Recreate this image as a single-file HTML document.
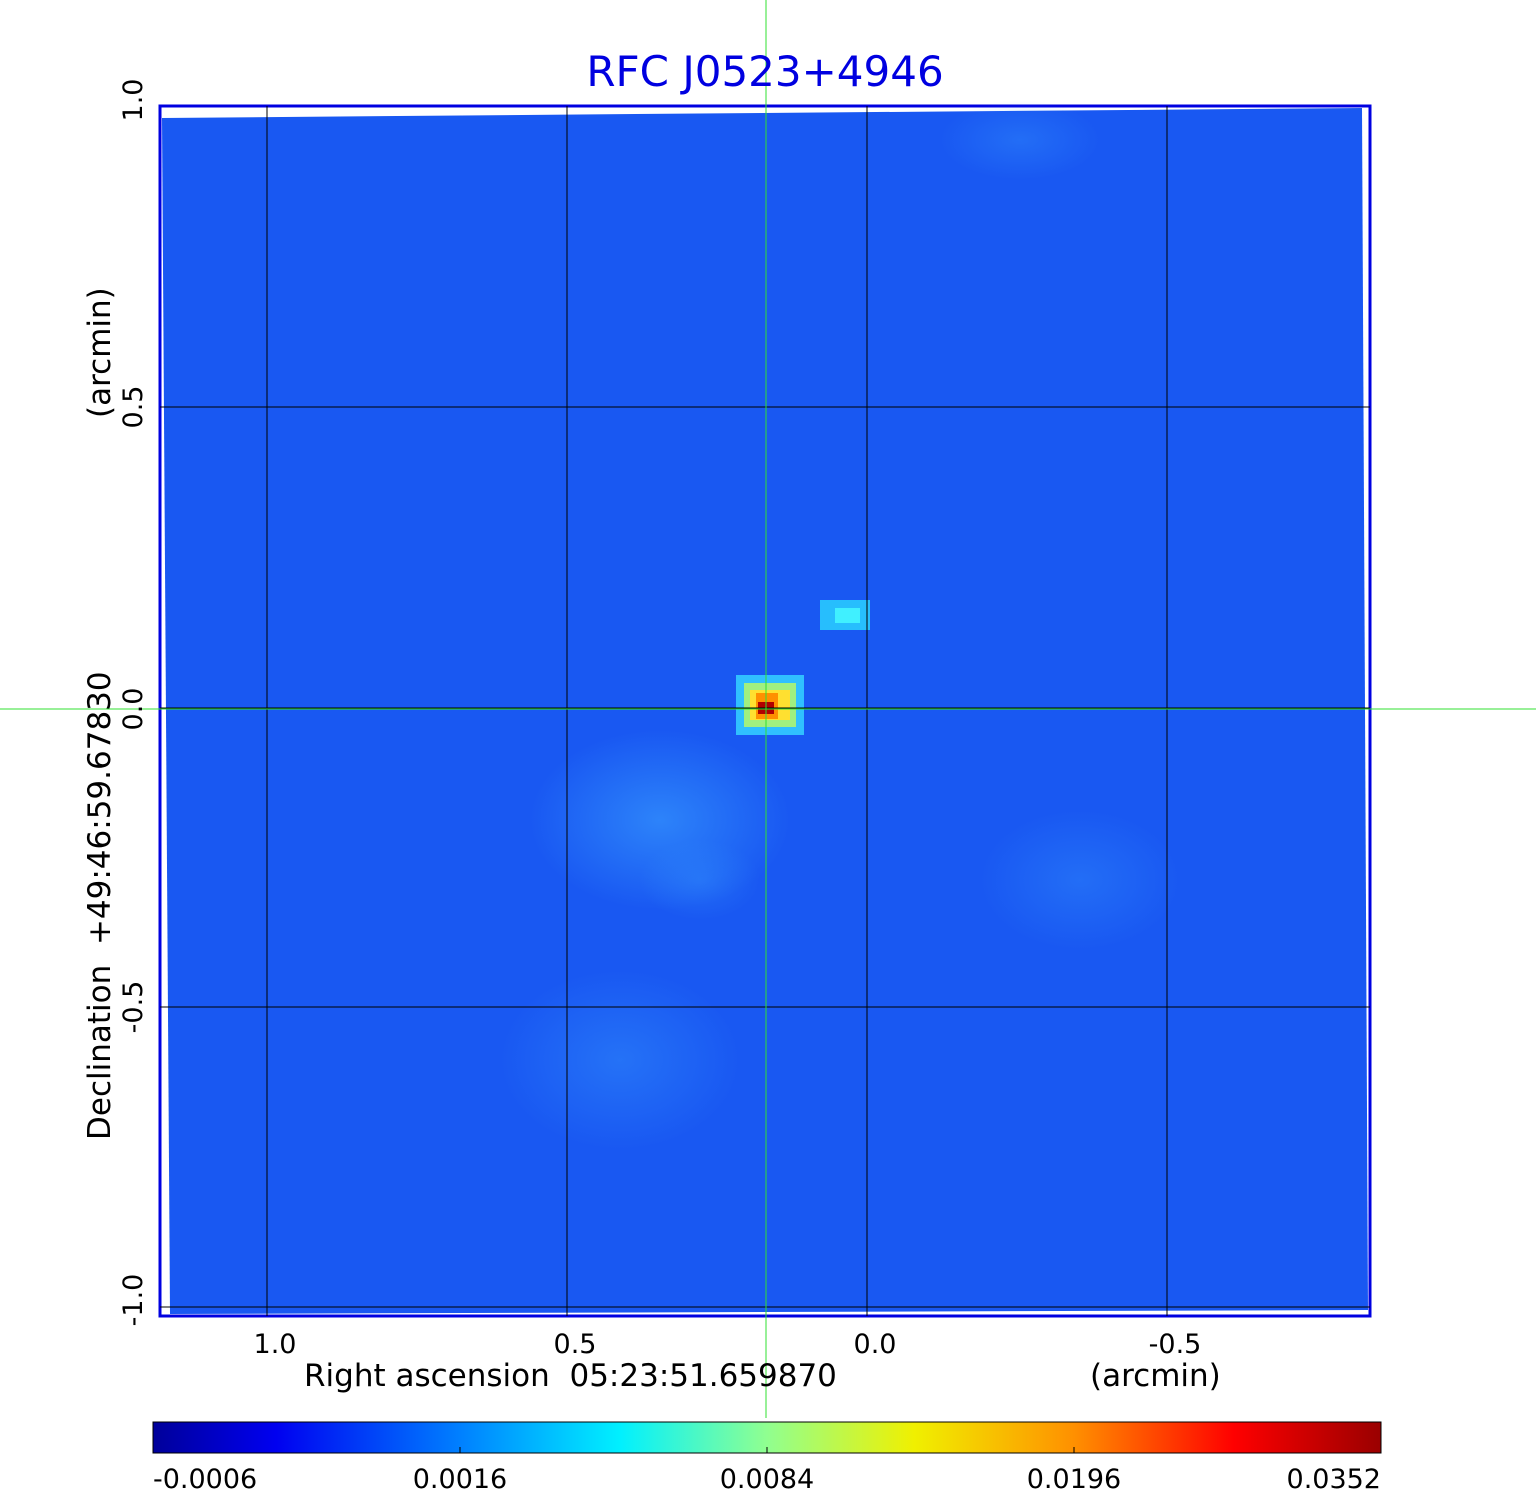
<!DOCTYPE html>
<html><head><style>
body{margin:0;background:#fff;width:1536px;height:1511px;position:relative;overflow:hidden;font-family:"DejaVu Sans","Liberation Sans",sans-serif}
</style></head><body>
<svg width="1536" height="1511" style="position:absolute;left:0;top:0">
<defs>
<radialGradient id="g1" cx="0.5" cy="0.5" r="0.5">
<stop offset="0" stop-color="#3aa0ff" stop-opacity="0.6"/><stop offset="1" stop-color="#3aa0ff" stop-opacity="0"/></radialGradient>
<linearGradient id="jet" x1="0" x2="1">
<stop offset="0" stop-color="#00009a"/><stop offset="0.1" stop-color="#0000f0"/><stop offset="0.25" stop-color="#0080ff"/><stop offset="0.38" stop-color="#00f0ff"/><stop offset="0.5" stop-color="#90ff90"/><stop offset="0.62" stop-color="#f0f000"/><stop offset="0.75" stop-color="#ff9000"/><stop offset="0.88" stop-color="#ff0000"/><stop offset="1" stop-color="#9a0000"/></linearGradient>
</defs>
<rect x="160" y="106" width="1210" height="1210" fill="#fff" stroke="#0000e0" stroke-width="3"/>
<polygon points="162,118 1362,108 1368,1310 170,1314" fill="#1958f2"/>
<ellipse cx="660" cy="820" rx="130" ry="90" fill="url(#g1)"/>
<ellipse cx="620" cy="1060" rx="120" ry="90" fill="url(#g1)" opacity="0.6"/>
<ellipse cx="1080" cy="880" rx="100" ry="70" fill="url(#g1)" opacity="0.5"/>
<ellipse cx="1020" cy="140" rx="80" ry="40" fill="url(#g1)" opacity="0.5"/>
<ellipse cx="700" cy="880" rx="60" ry="40" fill="url(#g1)" opacity="0.5"/>
<rect x="820" y="600" width="50" height="30" fill="#2ad8ff" opacity="0.8"/>
<rect x="835" y="608" width="25" height="15" fill="#40f0ff"/>
<rect x="736" y="675" width="68" height="60" fill="#30c0ff"/>
<rect x="744" y="683" width="52" height="44" fill="#a0f080"/>
<rect x="750" y="690" width="40" height="30" fill="#ffe030"/>
<rect x="756" y="693" width="22" height="26" fill="#ff9000"/>
<rect x="758" y="702" width="16" height="12" fill="#b00000"/>
<g stroke="#000" stroke-width="1">
<line x1="267" y1="106" x2="267" y2="1316"/><line x1="567" y1="106" x2="567" y2="1316"/>
<line x1="867" y1="106" x2="867" y2="1316"/><line x1="1167" y1="106" x2="1167" y2="1316"/>
<line x1="160" y1="407" x2="1370" y2="407"/><line x1="160" y1="708" x2="1370" y2="708"/>
<line x1="160" y1="1007" x2="1370" y2="1007"/><line x1="160" y1="1307" x2="1370" y2="1307"/>
</g>
<line x1="766" y1="0" x2="766" y2="1418" stroke="#30e030" stroke-width="1"/>
<line x1="0" y1="709" x2="1536" y2="709" stroke="#30e030" stroke-width="1"/>
<rect x="153" y="1422" width="1228" height="31" fill="url(#jet)" stroke="#000" stroke-width="1"/>
<g stroke="#000"><line x1="460" y1="1453" x2="460" y2="1447"/><line x1="767" y1="1453" x2="767" y2="1447"/><line x1="1074" y1="1453" x2="1074" y2="1447"/></g>
<g font-family="DejaVu Sans,Liberation Sans,sans-serif" font-size="27" fill="#000">
<text x="153" y="1488">-0.0006</text>
<text x="460" y="1488" text-anchor="middle">0.0016</text>
<text x="767" y="1488" text-anchor="middle">0.0084</text>
<text x="1074" y="1488" text-anchor="middle">0.0196</text>
<text x="1381" y="1488" text-anchor="end">0.0352</text>
<text x="275" y="1353" text-anchor="middle">1.0</text>
<text x="575" y="1353" text-anchor="middle">0.5</text>
<text x="875" y="1353" text-anchor="middle">0.0</text>
<text x="1175" y="1353" text-anchor="middle">-0.5</text>
<text x="304" y="1386" font-size="31">Right ascension&#160; 05:23:51.659870</text>
<text x="1090" y="1386" font-size="31">(arcmin)</text>
<text x="765" y="86" font-size="42" fill="#0000e0" text-anchor="middle">RFC J0523+4946</text>
<text transform="translate(142,100) rotate(-90)" text-anchor="middle">1.0</text>
<text transform="translate(142,407) rotate(-90)" text-anchor="middle">0.5</text>
<text transform="translate(142,709) rotate(-90)" text-anchor="middle">0.0</text>
<text transform="translate(142,1007) rotate(-90)" text-anchor="middle">-0.5</text>
<text transform="translate(142,1300) rotate(-90)" text-anchor="middle">-1.0</text>
<text transform="translate(110,1140) rotate(-90)" font-size="31">Declination&#160; +49:46:59.67830</text>
<text transform="translate(110,418) rotate(-90)" font-size="31">(arcmin)</text>
</g>
</svg>
</body></html>
